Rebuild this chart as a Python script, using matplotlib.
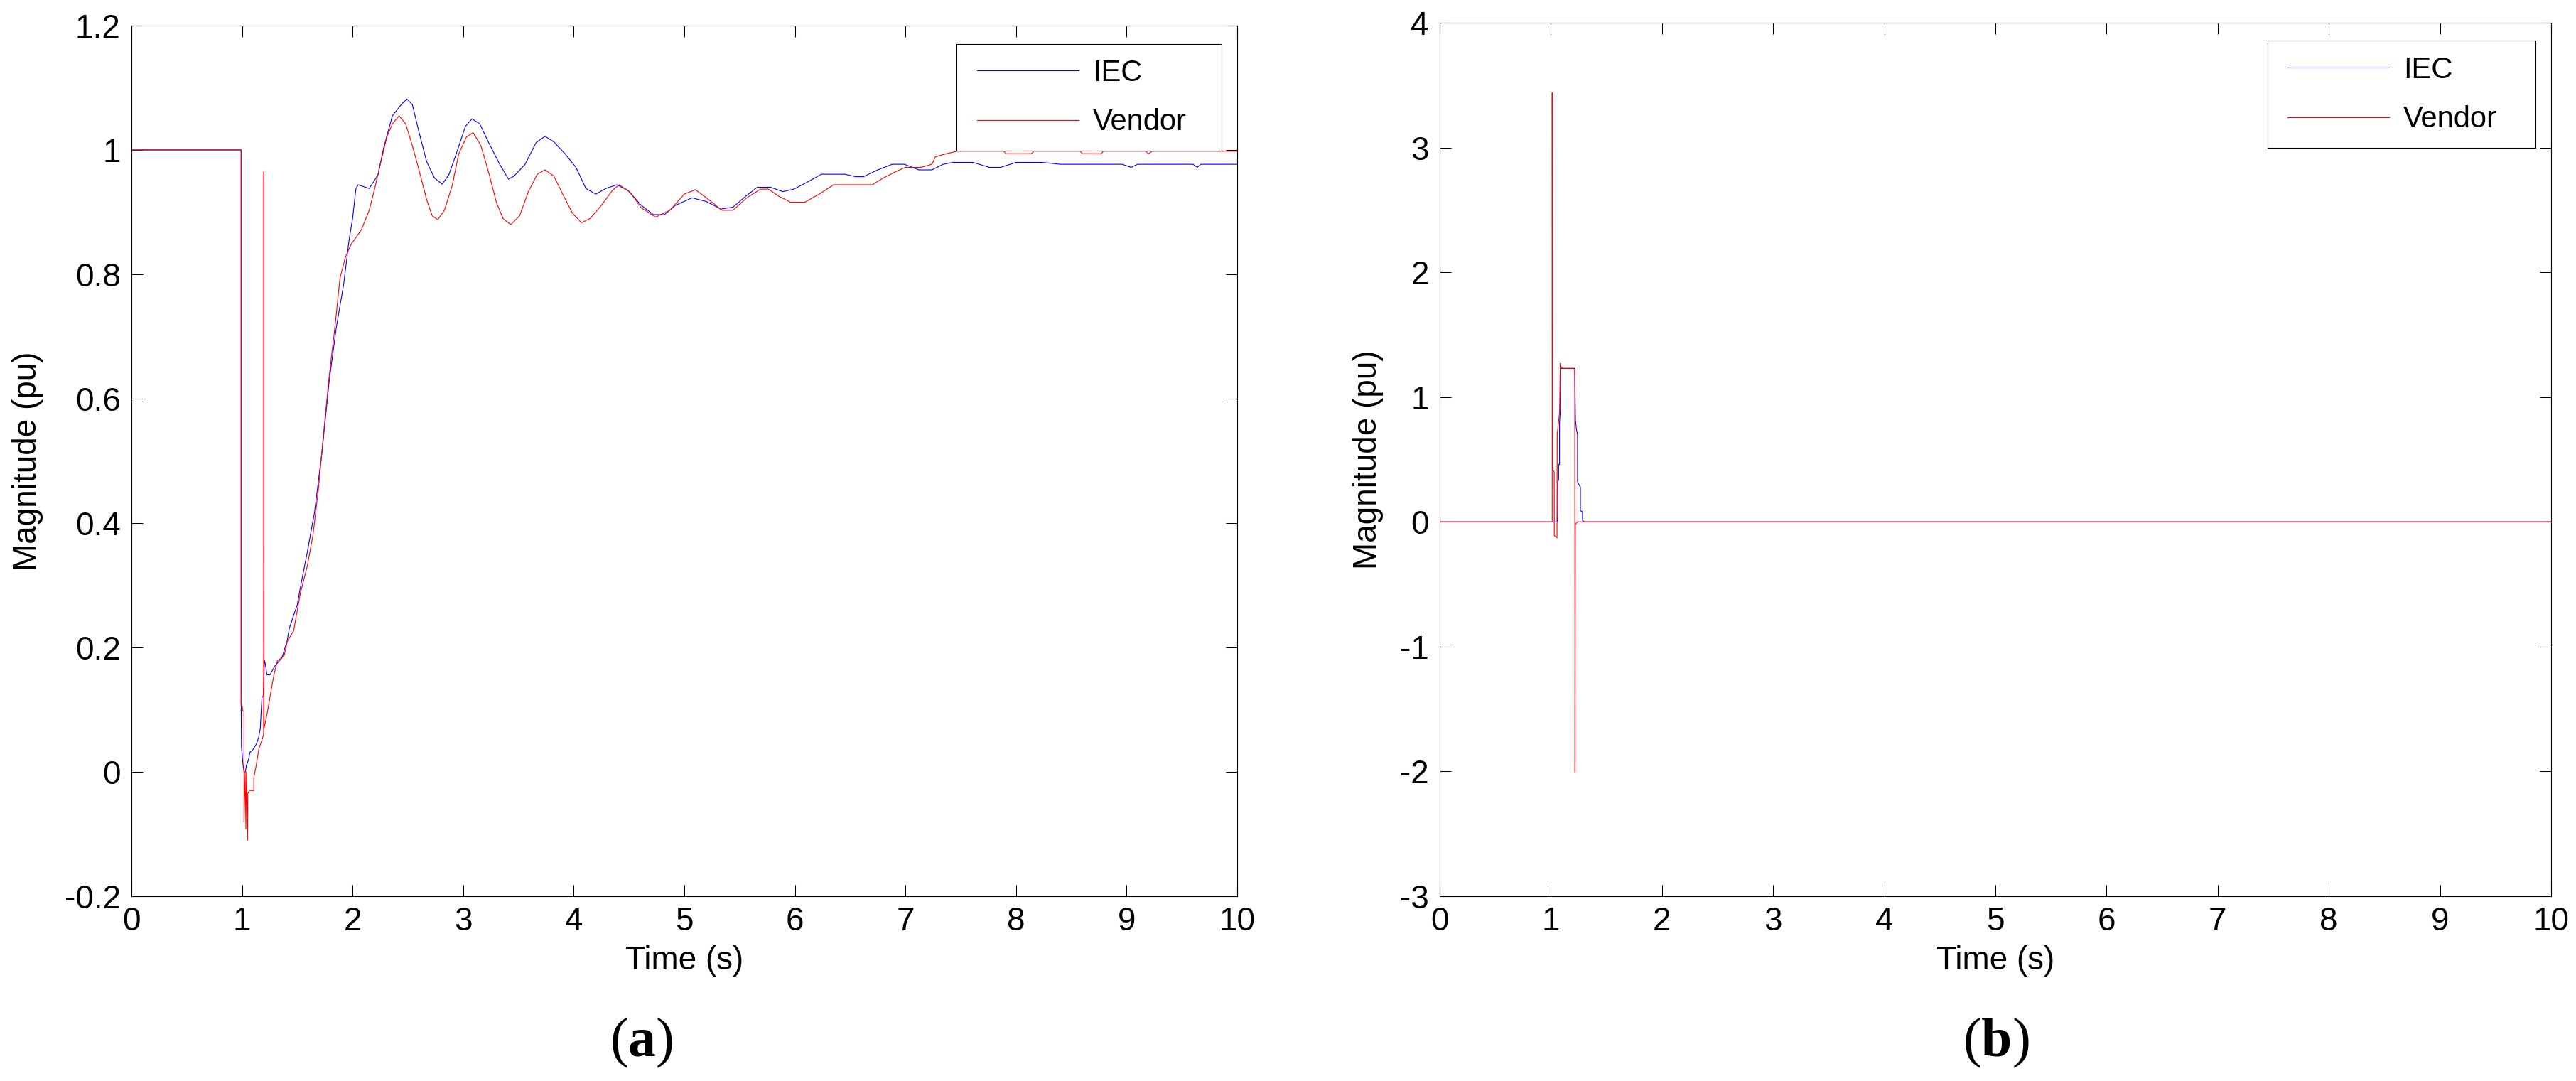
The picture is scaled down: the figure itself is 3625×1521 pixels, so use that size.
import numpy as np
import matplotlib
matplotlib.use("Agg")
import matplotlib.pyplot as plt
from matplotlib.patches import Rectangle

# --- DATA ---
# (a) voltage magnitude
t_iec_a = [0.0, 0.992, 0.992, 0.995, 1.0, 1.005, 1.01, 1.018, 1.03, 1.039, 1.06, 1.07, 1.1, 1.13,
           1.15, 1.165, 1.18, 1.193, 1.202, 1.212, 1.225, 1.253, 1.296, 1.36, 1.407, 1.428, 1.456, 1.5,
           1.527, 1.59, 1.656, 1.723, 1.788, 1.853, 1.92, 1.968, 2.0, 2.03, 2.05, 2.15, 2.23, 2.28,
           2.36, 2.44, 2.49, 2.54, 2.6, 2.67, 2.74, 2.81, 2.87, 2.93, 3.02, 3.08, 3.15, 3.23, 3.33,
           3.41, 3.46, 3.56, 3.66, 3.74, 3.82, 3.92, 4.02, 4.11, 4.2, 4.29, 4.39, 4.49, 4.61, 4.72,
           4.82, 4.92, 5.07, 5.2, 5.33, 5.44, 5.565, 5.66, 5.78, 5.89, 5.99, 6.12, 6.24, 6.45, 6.55,
           6.62, 6.75, 6.88, 6.99, 7.12, 7.24, 7.34, 7.43, 7.61, 7.76, 7.86, 8.0, 8.24, 8.4, 8.96,
           9.04, 9.1, 9.6, 9.64, 9.67, 10.0]
y_iec_a = [1.0, 1.0, 0.109, 0.04, 0.031, 0.02, 0.01, 0.0, 0.0, 0.01, 0.02, 0.031, 0.036, 0.045,
           0.055, 0.07, 0.12, 0.122, 0.18, 0.172, 0.156, 0.156, 0.17, 0.183, 0.21, 0.231, 0.246, 0.269,
           0.296, 0.353, 0.418, 0.514, 0.628, 0.715, 0.785, 0.855, 0.89, 0.938, 0.944, 0.938, 0.96, 1.003,
           1.055, 1.073, 1.082, 1.073, 1.029, 0.981, 0.955, 0.945, 0.96, 0.99, 1.038, 1.05, 1.042, 1.012,
           0.977, 0.953, 0.958, 0.977, 1.012, 1.022, 1.013, 0.994, 0.972, 0.938, 0.929, 0.938, 0.944,
           0.935, 0.911, 0.896, 0.896, 0.911, 0.923, 0.917, 0.905, 0.908, 0.927, 0.94, 0.94, 0.933,
           0.937, 0.949, 0.961, 0.961, 0.957, 0.957, 0.968, 0.977, 0.977, 0.968, 0.968, 0.977, 0.98,
           0.98, 0.972, 0.972, 0.98, 0.98, 0.977, 0.977, 0.972, 0.977, 0.977, 0.972, 0.977, 0.977]

t_vendor_a = [0.0, 0.992, 0.992, 1.003, 1.005, 1.018, 1.018, 1.028, 1.035, 1.04, 1.05, 1.052, 1.065,
              1.107, 1.107, 1.131, 1.152, 1.178, 1.195, 1.197, 1.199, 1.225, 1.246, 1.268, 1.29, 1.318,
              1.381, 1.41, 1.467, 1.527, 1.59, 1.64, 1.69, 1.74, 1.788, 1.84, 1.886, 1.935, 1.986, 2.08,
              2.15, 2.2, 2.25, 2.31, 2.36, 2.42, 2.48, 2.54, 2.6, 2.67, 2.72, 2.77, 2.83, 2.9, 2.96,
              3.03, 3.09, 3.16, 3.23, 3.3, 3.36, 3.43, 3.51, 3.59, 3.67, 3.74, 3.82, 3.9, 3.99, 4.07,
              4.15, 4.25, 4.35, 4.41, 4.51, 4.61, 4.74, 4.87, 5.0, 5.1, 5.2, 5.34, 5.44, 5.565, 5.69,
              5.76, 5.86, 5.96, 6.09, 6.22, 6.35, 6.7, 6.8, 6.91, 7.0, 7.14, 7.24, 7.27, 7.37, 7.47,
              7.89, 7.91, 8.14, 8.16, 8.58, 8.6, 8.77, 8.79, 9.17, 9.2, 9.23, 10.0]
y_vendor_a = [1.0, 1.0, 0.109, 0.105, 0.098, 0.098, -0.081, 0.0, -0.092, 0.0, -0.11, -0.035, -0.03,
              -0.03, -0.009, 0.013, 0.037, 0.05, 0.06, 0.965, 0.07, 0.092, 0.113, 0.136, 0.157, 0.178,
              0.187, 0.21, 0.227, 0.287, 0.331, 0.379, 0.453, 0.549, 0.636, 0.715, 0.794, 0.828, 0.848, 0.872,
              0.903, 0.938, 0.977, 1.021, 1.042, 1.055, 1.042, 1.007, 0.968, 0.92, 0.894, 0.888, 0.903, 0.942,
              0.994, 1.021, 1.028, 1.007, 0.964, 0.916, 0.89, 0.88, 0.894, 0.933, 0.961, 0.968, 0.958,
              0.929, 0.898, 0.883, 0.89, 0.911, 0.935, 0.944, 0.932, 0.907, 0.892, 0.903, 0.929, 0.936,
              0.923, 0.903, 0.903, 0.923, 0.937, 0.937, 0.925, 0.916, 0.916, 0.929, 0.944, 0.944, 0.955,
              0.965, 0.972, 0.972, 0.977, 0.989, 0.994, 0.998, 0.998, 0.994, 0.994, 0.998, 0.998, 0.994,
              0.994, 0.998, 0.998, 0.994, 0.998, 0.998]

# (b) second quantity
t_iec_b = [0.0, 1.058, 1.061, 1.061, 1.07, 1.07, 1.078, 1.078, 1.085, 1.085, 1.215, 1.221, 1.23,
           1.24, 1.24, 1.251, 1.266, 1.266, 1.285, 1.285, 1.304, 10.0]
y_iec_b = [0.0, 0.0, 0.08, 0.32, 0.34, 0.46, 0.46, 0.8, 0.88, 1.23, 1.23, 0.82, 0.74,
           0.70, 0.32, 0.30, 0.28, 0.09, 0.08, 0.01, 0.0, 0.0]

t_vendor_b = [0.0, 1.012, 1.012, 1.014, 1.03, 1.031, 1.055, 1.057, 1.064, 1.071, 1.078, 1.085,
              1.09, 1.106, 1.215, 1.217, 1.22, 1.24, 10.0]
y_vendor_b = [0.0, 0.0, 3.44, 0.42, 0.40, -0.11, -0.128, 0.70, 0.76, 0.82, 0.87, 1.27,
              1.24, 1.23, 1.23, -2.01, -0.02, 0.0, 0.0]

series_labels = ["IEC", "Vendor"]
x_ticks = list(range(0, 11))
x_ticklabels = [str(v) for v in x_ticks]
y_ticks_a = [-0.2, 0.0, 0.2, 0.4, 0.6, 0.8, 1.0, 1.2]
y_ticklabels_a = ["-0.2", "0", "0.2", "0.4", "0.6", "0.8", "1", "1.2"]
y_ticks_b = [-3, -2, -1, 0, 1, 2, 3, 4]
y_ticklabels_b = ["-3", "-2", "-1", "0", "1", "2", "3", "4"]

# --- STYLE ---
W, H, DPI = 3625, 1521, 100
plt.rcParams['font.family'] = ['Liberation Sans', 'DejaVu Sans']
plt.rcParams['mathtext.fontset'] = 'custom'
plt.rcParams['mathtext.rm'] = 'Liberation Serif'
plt.rcParams['mathtext.bf'] = 'Liberation Serif:bold'

def px_box(x0, y0, x1, y1):
    # pixel box (top-left origin) -> figure fraction [left, bottom, width, height]
    return [x0 / W, 1 - y1 / H, (x1 - x0) / W, (y1 - y0) / H]

def style_axes(ax, yticks, yticklabels):
    ax.set_xlim(0, 10)
    ax.set_xticks(x_ticks)
    ax.set_xticklabels(x_ticklabels)
    ax.set_yticks(yticks)
    ax.set_yticklabels(yticklabels)
    ax.set_ylim(yticks[0], yticks[-1])
    ax.tick_params(direction='in', length=11.5, width=0.75, labelsize=33,
                   top=True, right=True)
    ax.tick_params(axis='x', pad=10)
    ax.tick_params(axis='y', pad=11)
    for s in ax.spines.values():
        s.set_linewidth(0.8)
    ax.set_xlabel("Time (s)", fontsize=33)
    ax.set_ylabel("Magnitude (pu)", fontsize=33)
    ax.xaxis.set_label_coords(0.5, -0.056)

fig = plt.figure(figsize=(W / DPI, H / DPI), dpi=DPI)
ax_a = fig.add_axes(px_box(185, 36, 1741, 1261))
ax_b = fig.add_axes(px_box(2026, 32, 3590, 1261))

for ax, t_i, y_i, t_v, y_v in [(ax_a, t_iec_a, y_iec_a, t_vendor_a, y_vendor_a),
                               (ax_b, t_iec_b, y_iec_b, t_vendor_b, y_vendor_b)]:
    ax.plot(t_i, y_i, color='blue', lw=0.8, label=series_labels[0])
    ax.plot(t_v, y_v, color='red', lw=0.8, label=series_labels[1])

style_axes(ax_a, y_ticks_a, y_ticklabels_a)
style_axes(ax_b, y_ticks_b, y_ticklabels_b)
ax_a.yaxis.set_label_coords((61 - 185) / 1556, 0.5)
ax_b.yaxis.set_label_coords((1947 - 2026) / 1564, 0.5)

# MATLAB-like legends: frame drawn as a plain box, entries placed inside
legend_frames = [(ax_a, (1346, 62, 1719, 212), 1375, 83),
                 (ax_b, (3191, 57, 3568, 208), 3219, 79)]
for ax, (x0, y0, x1, y1), hx, hy in legend_frames:
    frame = Rectangle((x0 / W, 1 - y1 / H), (x1 - x0) / W, (y1 - y0) / H,
                      transform=fig.transFigure, facecolor='white',
                      edgecolor='black', lw=0.8, zorder=5, clip_on=False)
    ax.add_artist(frame)
    leg = ax.legend(loc='upper left', bbox_to_anchor=(hx / W, 1 - hy / H),
                    bbox_transform=fig.transFigure, frameon=False, fontsize=30,
                    borderpad=0, borderaxespad=0, handlelength=3.43,
                    handletextpad=0.48, labelspacing=0.7)
    leg.set_zorder(6)
    for line in leg.get_lines():
        line.set_linewidth(0.8)

fig.text(903 / W, 1 - 1486 / H, r'$(\mathbf{a})$', fontsize=56, ha='center', va='baseline')
fig.text(2809 / W, 1 - 1486 / H, r'$(\mathbf{b})$', fontsize=56, ha='center', va='baseline')

fig.savefig("out.png", dpi=DPI)
